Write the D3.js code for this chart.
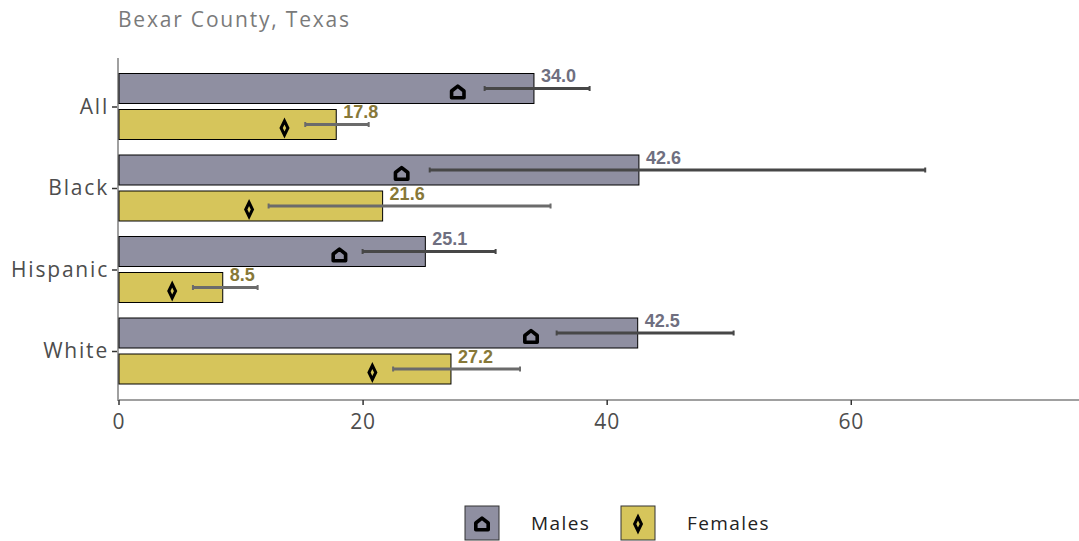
<!DOCTYPE html>
<html><head><meta charset="utf-8">
<script src="https://cdn.jsdelivr.net/npm/d3@7"></script>
<style>body{margin:0;background:#fff}svg{display:block}</style>
</head><body>
<script>
const categories = ["All","Black","Hispanic","White"];
const groups = ["Males","Females"];
const males = [34.0, 42.6, 25.1, 42.5];
const females = [17.8, 21.6, 8.5, 27.2];
const maleMarker = [27.8, 23.2, 18.1, 33.8];
const femaleMarker = [13.6, 10.7, 4.4, 20.8];
const maleLow = [30.0, 25.5, 20.0, 35.9];
const maleHigh = [38.6, 66.1, 30.9, 50.4];
const femaleLow = [15.3, 12.3, 6.1, 22.5];
const femaleHigh = [20.5, 35.4, 11.4, 32.9];
const xTicks = [0, 20, 40, 60];
const title = "Bexar County, Texas";

const W = 1079, H = 541;
const fillC = {Males:"#8f8fa1", Females:"#d6c55b"};
const labC = {Males:"#6f6f80", Females:"#877838"};
const errC = {Males:"#474747", Females:"#6b6b6b"};
const font = "'Open Sans', Lato, sans-serif";

const svg = d3.select("body").append("svg").attr("width", W).attr("height", H);

const x = d3.scaleLinear().domain([0, 78.7]).range([118.5, W]);
const y = d3.scalePoint().domain(categories).range([106.5, 351]);
const sub = d3.scaleBand().domain(groups).range([-33, 33]).paddingInner(6/36).paddingOuter(0);

const rows = [];
categories.forEach((c, i) => {
  rows.push({cat:c, g:"Males", v:males[i], m:maleMarker[i], lo:maleLow[i], hi:maleHigh[i]});
  rows.push({cat:c, g:"Females", v:females[i], m:femaleMarker[i], lo:femaleLow[i], hi:femaleHigh[i]});
});

// title
svg.append("text").attr("x", 118).attr("y", 27).text(title)
  .attr("font-family", font).attr("font-size", 21).attr("letter-spacing", 1.8).attr("fill", "#7a7a7a");

// y axis line
svg.append("line").attr("x1", x(0)-0.5).attr("x2", x(0)-0.5).attr("y1", 58).attr("y2", 400)
  .attr("stroke", "#a0a0a0").attr("stroke-width", 2);

// x axis
const xa = svg.append("g").attr("transform", "translate(0,400)")
  .call(d3.axisBottom(x).tickValues(xTicks).tickSize(5).tickPadding(9).tickFormat(d3.format("d")));
xa.select(".domain").remove();
xa.insert("line", ":first-child").attr("x1", x(0)-1.5).attr("x2", W).attr("y1", 0).attr("y2", 0)
  .attr("stroke", "#a0a0a0").attr("stroke-width", 2);
xa.selectAll(".tick line").attr("stroke", "#333").attr("stroke-width", 1.5);
xa.selectAll(".tick text").attr("font-family", font).attr("font-size", 21).attr("letter-spacing", 0.8).attr("fill", "#4d4d4d");

// y axis
const ya = svg.append("g").attr("transform", `translate(${x(0)-1.5},0)`)
  .call(d3.axisLeft(y).tickSize(5).tickPadding(3));
ya.select(".domain").remove();
ya.selectAll(".tick line").attr("stroke", "#333").attr("stroke-width", 1.5);
ya.selectAll(".tick text").attr("font-family", font).attr("font-size", 21).attr("letter-spacing", 1.8).attr("fill", "#4d4d4d");

// bars
svg.append("g").selectAll("rect").data(rows).join("rect")
  .attr("x", x(0)+0.5)
  .attr("y", d => y(d.cat) + sub(d.g))
  .attr("width", d => x(d.v) - x(0))
  .attr("height", sub.bandwidth())
  .attr("fill", d => fillC[d.g]).attr("stroke", "#000").attr("stroke-width", 1);

// error bars
const eb = svg.append("g").selectAll("g").data(rows).join("g")
  .attr("transform", d => `translate(0,${y(d.cat) + sub(d.g) + sub.bandwidth()/2})`);
eb.append("line").attr("x1", d => x(d.lo)).attr("x2", d => x(d.hi)).attr("y1", 0).attr("y2", 0)
  .attr("stroke", d => errC[d.g]).attr("stroke-width", 3);
eb.append("line").attr("x1", d => x(d.lo)).attr("x2", d => x(d.lo)).attr("y1", -2.5).attr("y2", 2.5)
  .attr("stroke", d => errC[d.g]).attr("stroke-width", 2);
eb.append("line").attr("x1", d => x(d.hi)).attr("x2", d => x(d.hi)).attr("y1", -2.5).attr("y2", 2.5)
  .attr("stroke", d => errC[d.g]).attr("stroke-width", 2);

// markers
const house = "M-6.2,5.8L6.2,5.8L6.2,-1L0,-5.8L-6.2,-1Z";
const diamond = "M0,-7L3.4,0L0,7L-3.4,0Z";
function marker(sel, g) {
  sel.attr("d", g === "Males" ? house : diamond)
    .attr("fill", "none").attr("stroke", "#000")
    .attr("stroke-width", g === "Males" ? 3.6 : 3)
    .attr("stroke-linejoin", g === "Males" ? "round" : "miter");
}
svg.append("g").selectAll("path").data(rows).join("path")
  .attr("transform", d => `translate(${x(d.m)},${y(d.cat) + sub(d.g) + sub.bandwidth()/2 + 3.5})`)
  .each(function(d){ marker(d3.select(this), d.g); });

// value labels
svg.append("g").selectAll("text").data(rows).join("text")
  .attr("x", d => x(d.v) + 7.5)
  .attr("y", d => y(d.cat) + sub(d.g) + 8.5)
  .text(d => d.v.toFixed(1))
  .attr("font-family", "'Liberation Sans', Arial, sans-serif").attr("font-weight", "bold")
  .attr("font-size", 18).attr("fill", d => labC[d.g]);

// legend
const legX = {Males: 465, Females: 621};
const lg = svg.append("g").selectAll("g").data(groups).join("g")
  .attr("transform", d => `translate(${legX[d]},506)`);
lg.append("rect").attr("x", 0).attr("y", 0).attr("width", 34).attr("height", 34)
  .attr("fill", d => fillC[d]).attr("stroke", "#333").attr("stroke-width", 1);
lg.append("path").attr("transform", "translate(17,18)").each(function(d){ marker(d3.select(this), d); });
lg.append("text").attr("x", 66).attr("y", 24).text(d => d)
  .attr("font-family", font).attr("font-size", 19).attr("letter-spacing", 1.4).attr("fill", "#222");
</script>
</body></html>
